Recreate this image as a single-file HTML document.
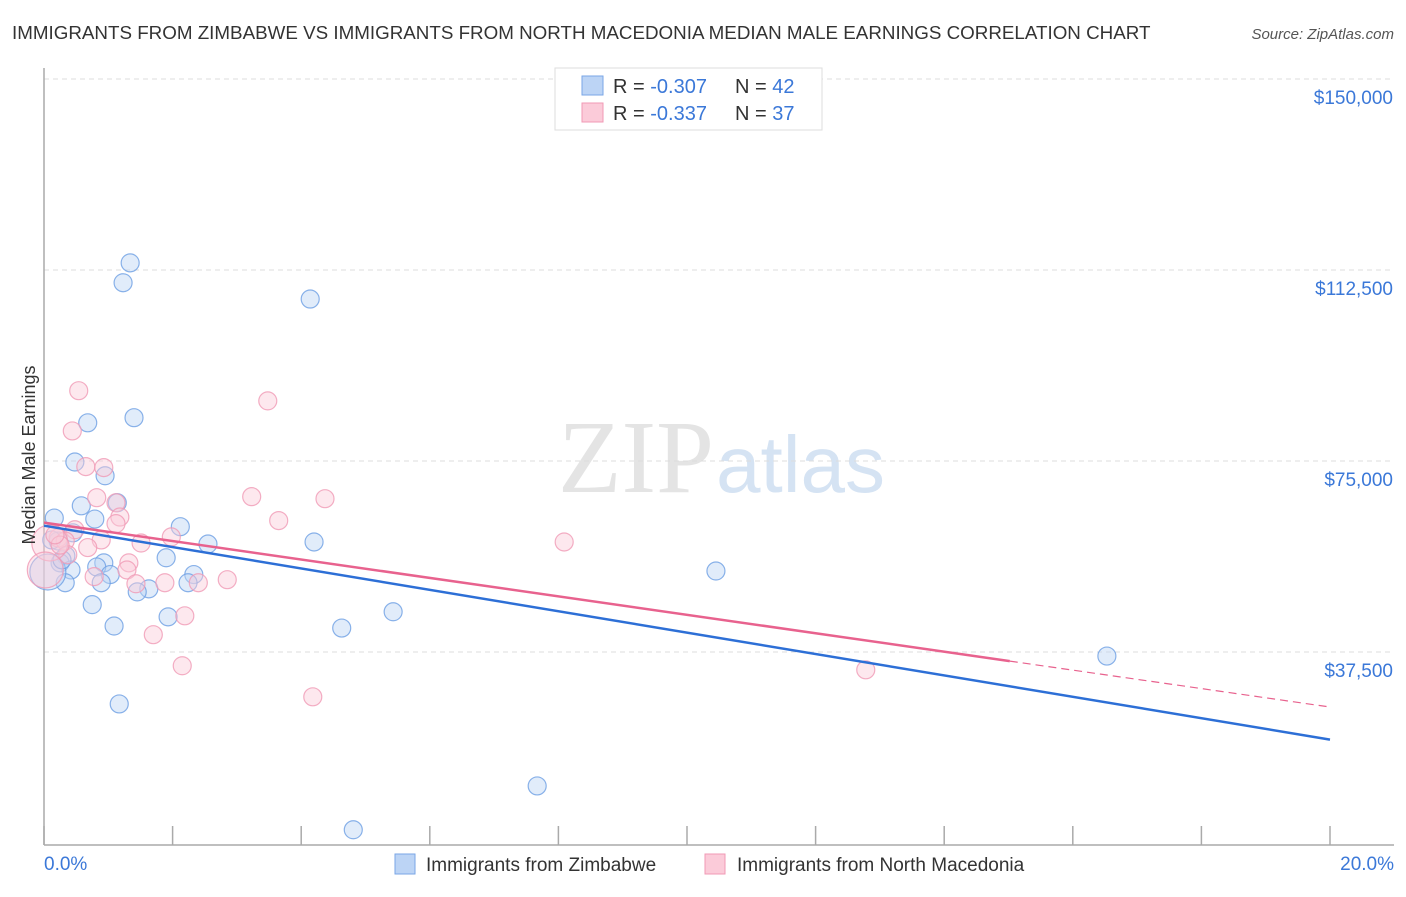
<!DOCTYPE html>
<html><head><meta charset="utf-8"><style>
body{margin:0;background:#fff;font-family:"Liberation Sans",sans-serif;}
svg text{font-family:"Liberation Sans",sans-serif;}
</style></head><body>
<svg id="chart" width="1406" height="892" xmlns="http://www.w3.org/2000/svg">
<text x="12" y="39" font-size="18.8" fill="#333">IMMIGRANTS FROM ZIMBABWE VS IMMIGRANTS FROM NORTH MACEDONIA MEDIAN MALE EARNINGS CORRELATION CHART</text>
<text x="1394" y="39" font-size="15" fill="#555" font-style="italic" text-anchor="end">Source: ZipAtlas.com</text>
<text x="714" y="492" font-size="104" fill="#e4e4e4" text-anchor="end" style="font-family:'Liberation Serif',serif">ZIP</text>
<text x="716" y="492" font-size="80" fill="#d5e3f3">atlas</text>
<g id="grid"></g>
<g id="axes"></g>
<g id="marks"></g>
<text transform="translate(35,455) rotate(-90)" font-size="18" fill="#333" text-anchor="middle">Median Male Earnings</text>
<g>
<rect x="555" y="68" width="267" height="62" fill="#fff" stroke="#ddd"/>
<rect x="582" y="76" width="21" height="19" fill="#bcd4f5" stroke="#7aa6e6"/>
<rect x="582" y="103" width="21" height="19" fill="#fbcbd9" stroke="#f09ab5"/>
<text x="613" y="93" font-size="20" fill="#333">R = <tspan fill="#3b78d8">-0.307</tspan></text>
<text x="735" y="93" font-size="20" fill="#333">N = <tspan fill="#3b78d8">42</tspan></text>
<text x="613" y="120" font-size="20" fill="#333">R =  <tspan fill="#3b78d8">-0.337</tspan></text>
<text x="735" y="120" font-size="20" fill="#333">N = <tspan fill="#3b78d8">37</tspan></text>
</g>
<g>
<rect x="395" y="854" width="20" height="20" fill="#bcd4f5" stroke="#7aa6e6"/>
<text x="426" y="871" font-size="19" fill="#333">Immigrants from Zimbabwe</text>
<rect x="705" y="854" width="20" height="20" fill="#fbcbd9" stroke="#f09ab5"/>
<text x="737" y="871" font-size="19" fill="#333">Immigrants from North Macedonia</text>
</g>
</svg>
<script>
const yTicks=[37500,75000,112500,150000];
const yTickLabels=["$37,500","$75,000","$112,500","$150,000"];
const xTickLabels=["0.0%","20.0%"];
const blueX=[1.34,1.23,4.14,1.40,0.68,0.48,0.95,0.58,1.14,0.16,0.79,2.12,0.22,4.20,2.55,0.45,0.34,1.90,0.25,0.93,0.82,0.42,1.03,2.33,0.33,0.89,2.24,1.63,1.45,0.75,5.43,1.93,1.09,4.63,10.45,16.53,1.17,7.67,4.81,0.06,0.12,0.28];
const blueY=[113.9,110.0,106.8,83.5,82.5,74.8,72.1,66.2,66.8,63.8,63.6,62.1,59.3,59.1,58.7,60.9,56.4,56.0,55.0,55.0,54.2,53.6,52.7,52.7,51.1,51.1,51.1,49.9,49.3,46.8,45.4,44.4,42.6,42.2,53.4,36.7,27.3,11.2,2.6,53.2,59.5,55.6];
const pinkX=[0.54,3.48,0.44,0.65,0.93,0.82,3.23,4.37,1.12,1.18,3.65,1.12,0.48,0.22,0.89,1.98,0.33,8.09,1.51,0.37,1.32,0.78,1.29,1.88,2.40,2.85,1.43,2.19,1.70,2.15,4.18,12.78,0.09,0.25,0.02,0.17,0.68];
const pinkY=[88.8,86.8,80.9,73.9,73.7,67.8,68.0,67.6,66.8,64.0,63.3,62.7,61.5,59.9,59.5,60.1,59.3,59.1,58.9,56.6,55.0,52.3,53.6,51.1,51.1,51.7,50.9,44.6,40.9,34.8,28.7,34.0,58.9,58.5,53.6,60.5,58.0];
const blueTrend=[62.3,20.3];
const pinkTrend=[62.9,26.7];
const pinkSolidEnd=15.02;

const NS="http://www.w3.org/2000/svg";
const sx=p=>44+p*(1286/20);
const sy=k=>843-k*1000*191/37500;
function mk(tag,attrs,parent){const e=document.createElementNS(NS,tag);for(const k in attrs)e.setAttribute(k,attrs[k]);parent.appendChild(e);return e;}
const grid=document.getElementById('grid'),axes=document.getElementById('axes'),marks=document.getElementById('marks');
yTicks.forEach((v,i)=>{
 const y=sy(v/1000);
 const g=mk('line',{x1:44,x2:1394,y1:y,y2:y,stroke:'#ddd','stroke-dasharray':'5,4'},grid);
 
 
 const t=mk('text',{x:1393,y:y+25,'font-size':19,fill:'#3b78d8','text-anchor':'end'},axes);
 t.textContent=yTickLabels[i];
 
 
});
const ya=mk('line',{x1:44,x2:44,y1:68,y2:845,stroke:'#aaa','stroke-width':1.5},axes);


const xa=mk('line',{x1:44,x2:1394,y1:845,y2:845,stroke:'#aaa','stroke-width':1.5},axes);


for(let i=0;i<=10;i++){
 const x=sx(i*2);
 const tk=mk('line',{x1:x,x2:x,y1:826,y2:845,stroke:'#aaa','stroke-width':1.5},axes);
 
 
}
[[0,'start',44],[20,'end',1394]].forEach((d,i)=>{
 const t=mk('text',{x:d[2],y:870,'font-size':19,fill:'#3b78d8','text-anchor':d[1]},axes);
 t.textContent=xTickLabels[i];
 
 
});
function pts(X,Y,fill,stroke,name){
 X.forEach((x,i)=>{
  const big=x<0.1;
  const c=mk('circle',{cx:sx(x),cy:sy(Y[i]),r:big?18:9,fill:fill,'fill-opacity':0.45,stroke:stroke,'stroke-width':1.2,'stroke-opacity':0.8},marks);
  
  
 });
}
pts(blueX,blueY,'#bcd4f5','#6d9fe3','point-zimbabwe');
pts(pinkX,pinkY,'#fbcbd9','#f09ab5','point-north-macedonia');
const bl=mk('line',{x1:sx(0),y1:sy(blueTrend[0]),x2:sx(20),y2:sy(blueTrend[1]),stroke:'#2d6fd6','stroke-width':2.5},marks);


const pAt=p=>pinkTrend[0]+(pinkTrend[1]-pinkTrend[0])*p/20;
const pl=mk('line',{x1:sx(0),y1:sy(pinkTrend[0]),x2:sx(pinkSolidEnd),y2:sy(pAt(pinkSolidEnd)),stroke:'#e8628e','stroke-width':2.5},marks);


const pd=mk('line',{x1:sx(pinkSolidEnd),y1:sy(pAt(pinkSolidEnd)),x2:sx(20),y2:sy(pinkTrend[1]),stroke:'#e8628e','stroke-width':1.2,'stroke-dasharray':'8,5'},marks);


</script>
</body></html>
